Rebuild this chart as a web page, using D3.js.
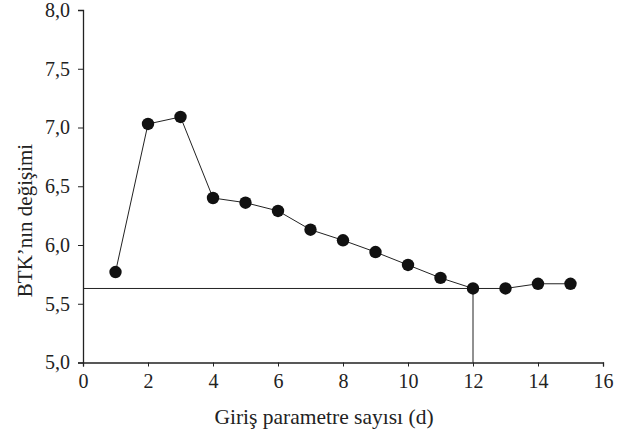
<!DOCTYPE html>
<html><head><meta charset="utf-8">
<script src="https://cdn.jsdelivr.net/npm/d3@7"></script>
<style>body{margin:0;background:#fff}svg{display:block}</style>
</head><body>
<svg id="c" width="642" height="439"></svg>
<script>
const xValues = [1,2,3,4,5,6,7,8,9,10,11,12,13,14,15];
const yValues = [5.77,7.03,7.09,6.40,6.36,6.29,6.13,6.04,5.94,5.83,5.72,5.63,5.63,5.67,5.67];
const xTicks = [0,2,4,6,8,10,12,14,16];
const yTicks = [5.0,5.5,6.0,6.5,7.0,7.5,8.0];
const refX = 12, refY = 5.63;
const xTitle = "Giriş parametre sayısı (d)";
const yTitle = "BTK’nın değişimi";

const svg = d3.select("#c");
const font = "'Liberation Serif','Times New Roman',serif";
const x = d3.scaleLinear().domain([0,16]).range([83,603]);
const y = d3.scaleLinear().domain([5,8]).range([362.5,10]);
const fmt = d => d3.format(".1f")(d).replace(".", ",");

const xa = svg.append("g").attr("transform",`translate(0,${y(5)})`)
  .call(d3.axisBottom(x).tickValues(xTicks).tickSize(4).tickPadding(7).tickFormat(d3.format("d")));
const ya = svg.append("g").attr("transform",`translate(${x(0)},0)`)
  .call(d3.axisLeft(y).tickValues(yTicks).tickSize(5).tickPadding(8).tickFormat(fmt));
[xa,ya].forEach(a=>{
  a.select(".domain").attr("stroke","#222").attr("stroke-width",1.3);
  a.selectAll(".tick line").attr("stroke","#222").attr("stroke-width",1);
  a.selectAll("text").attr("font-family",font).attr("font-size",20).attr("fill","#222");
});

// reference lines
svg.append("path")
  .attr("d", `M${x(0)},${y(refY)}H${x(refX)}V${y(5)}`)
  .attr("fill","none").attr("stroke","#222").attr("stroke-width",1);

const data = xValues.map((v,i)=>({x:v,y:yValues[i]}));
svg.append("path").datum(data)
  .attr("d", d3.line().x(d=>x(d.x)).y(d=>y(d.y)))
  .attr("fill","none").attr("stroke","#222").attr("stroke-width",1);
svg.selectAll("circle.pt").data(data).join("circle")
  .attr("class","pt").attr("cx",d=>x(d.x)).attr("cy",d=>y(d.y)).attr("r",6.2)
  .attr("fill","#111");

svg.append("text").attr("x",324).attr("y",424)
  .attr("text-anchor","middle").attr("font-family",font).attr("font-size",21.5)
  .attr("fill","#222").text(xTitle);
svg.append("text").attr("transform",`translate(32,220.5) rotate(-90)`)
  .attr("text-anchor","middle").attr("font-family",font).attr("font-size",21)
  .attr("fill","#222").text(yTitle);
</script>
</body></html>
